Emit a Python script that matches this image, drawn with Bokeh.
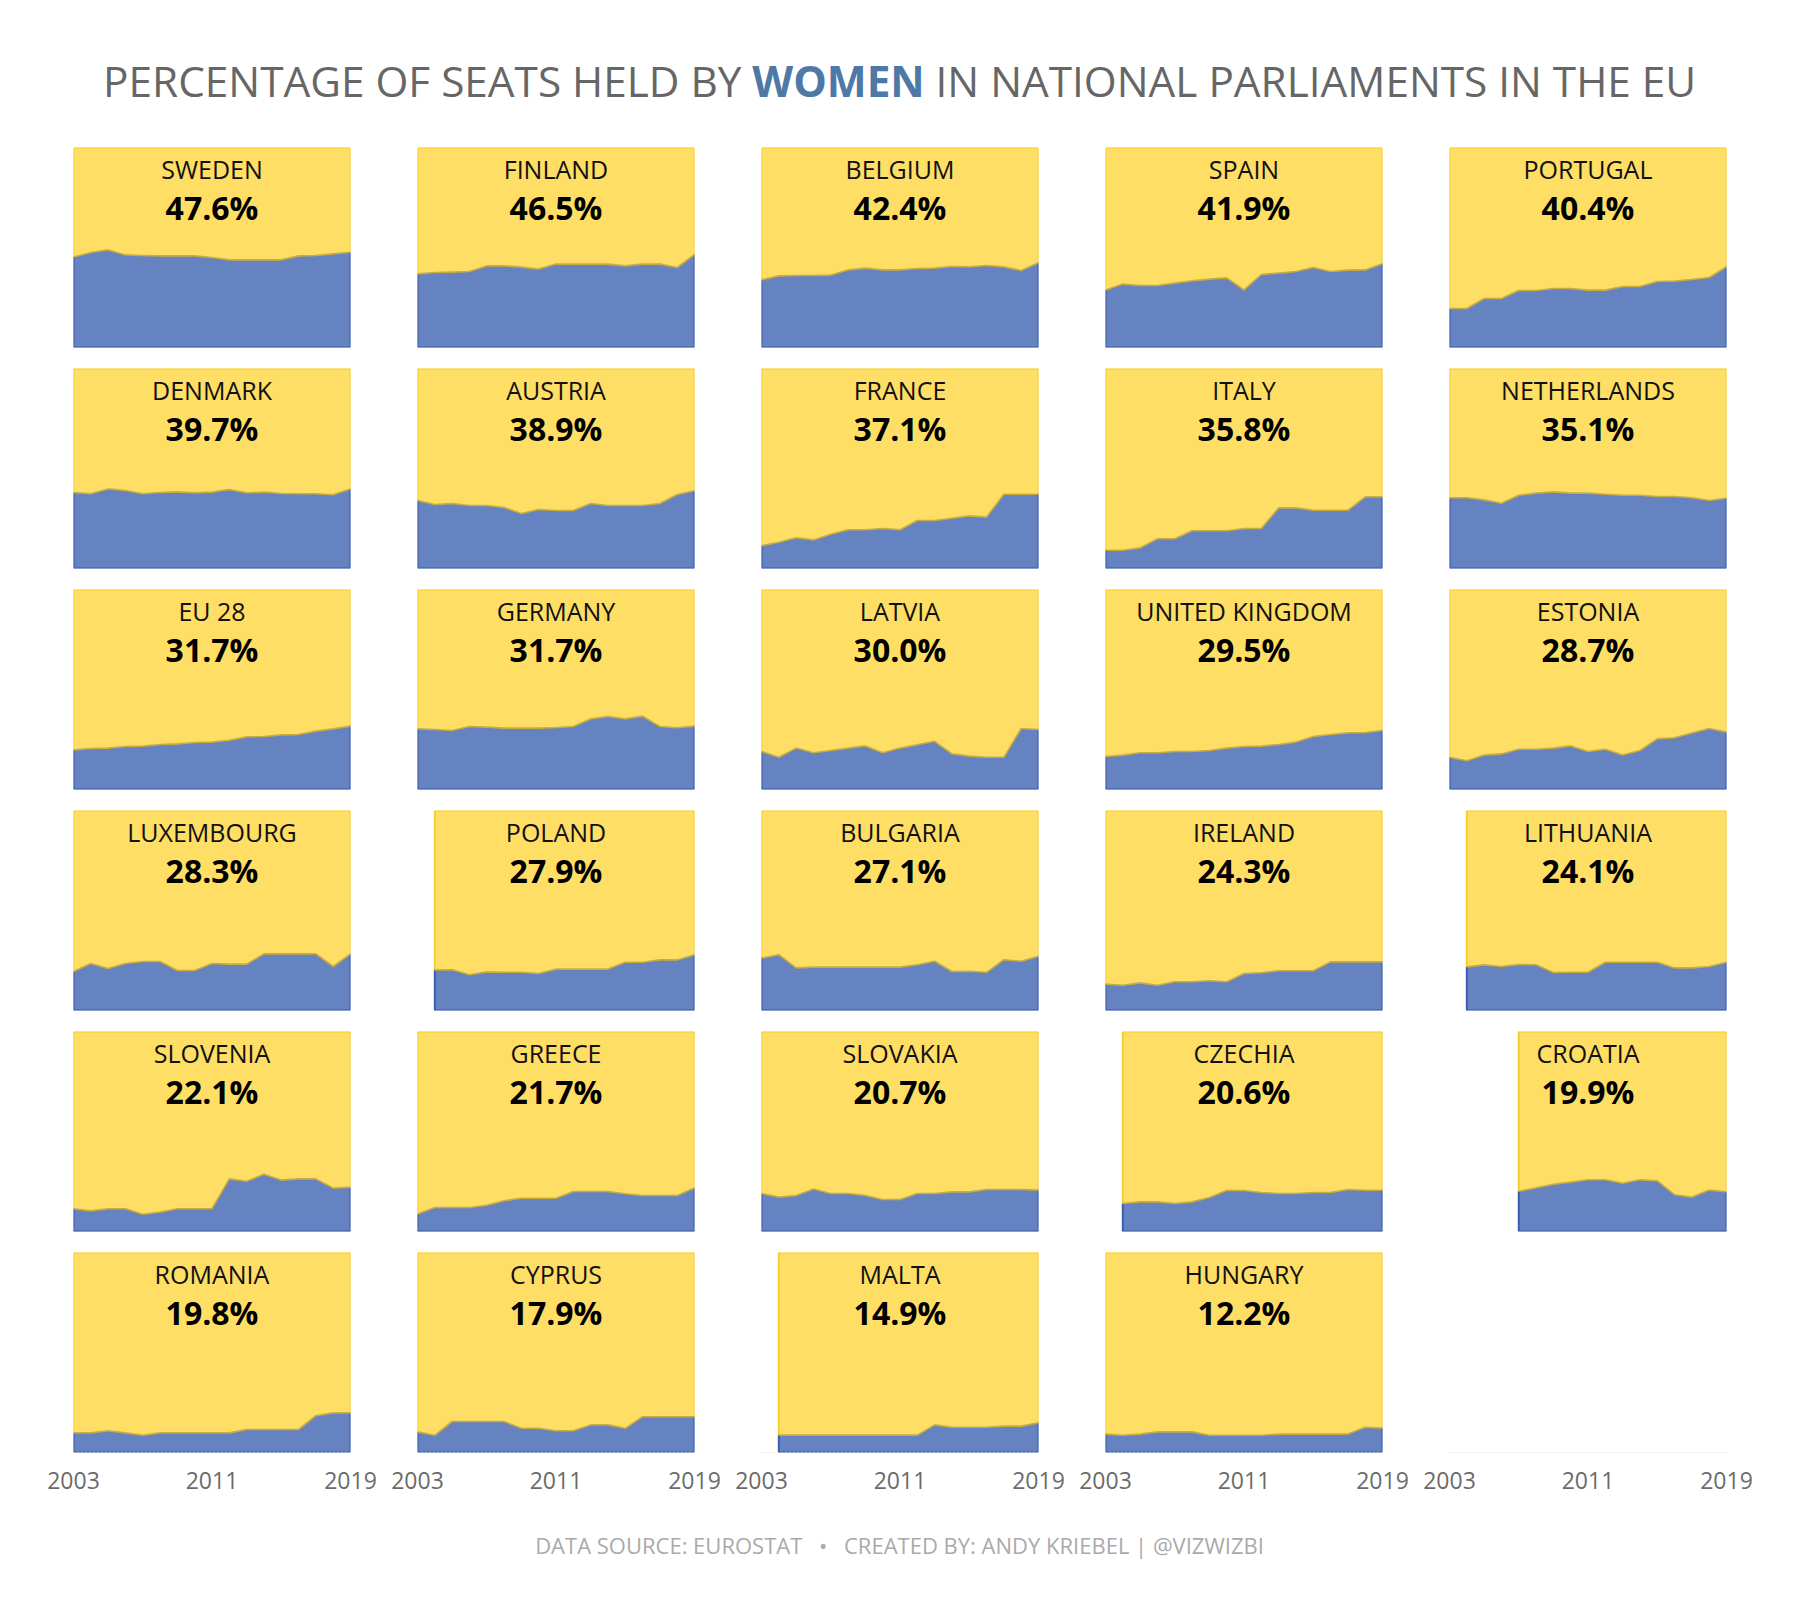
from bokeh.plotting import figure
from bokeh.models import Range1d, FixedTicker, Spacer
from bokeh.layouts import row, column
from bokeh.embed import file_html
from bokeh.resources import INLINE
from bokeh.core.properties import value

# ---------------- data ----------------
YEARS = list(range(2003, 2020))
TICK_YEARS = [2003, 2011, 2019]

sweden = [45.2, 47.5, 48.8, 46.3, 46.0, 45.8, 45.8, 45.8, 45.0, 43.8, 43.8, 43.8, 43.8, 45.8, 46.0, 46.8, 47.6]
finland = [36.8, 37.5, 37.7, 38.0, 40.8, 40.8, 40.2, 39.2, 41.7, 41.7, 41.7, 41.7, 40.8, 41.7, 41.7, 40.0, 46.5]
belgium = [33.8, 35.8, 36.0, 36.0, 36.2, 38.8, 39.7, 38.8, 38.8, 39.5, 39.7, 40.5, 40.3, 41.0, 40.3, 38.5, 42.4]
spain = [28.8, 31.7, 31.0, 31.0, 32.2, 33.3, 34.2, 34.8, 28.8, 36.5, 37.2, 38.0, 40.0, 38.0, 38.7, 38.8, 41.9]
portugal = [19.5, 19.5, 24.5, 24.5, 28.5, 28.5, 29.5, 29.5, 28.7, 28.7, 30.5, 30.5, 33.0, 33.2, 34.0, 35.0, 40.4]

denmark = [38.0, 37.4, 39.8, 39.0, 37.4, 38.0, 38.3, 37.8, 38.2, 39.5, 37.8, 38.2, 37.5, 37.4, 37.4, 36.9, 39.7]
austria = [34.0, 32.0, 32.5, 31.5, 31.5, 30.5, 27.5, 29.5, 29.0, 29.0, 32.5, 31.5, 31.5, 31.5, 32.5, 37.0, 38.9]
france = [11.4, 13.1, 15.4, 14.3, 17.1, 19.4, 19.4, 20.0, 19.4, 24.0, 24.0, 25.1, 26.3, 25.7, 37.1, 37.1, 37.1]
italy = [9.1, 9.1, 10.3, 14.9, 14.9, 18.9, 18.9, 18.9, 20.0, 20.0, 30.3, 30.3, 29.1, 29.1, 29.1, 35.8, 35.8]
netherlands = [35.4, 35.4, 34.3, 32.6, 36.6, 37.7, 38.3, 37.7, 37.7, 37.1, 36.6, 36.6, 36.0, 36.0, 35.4, 34.0, 35.1]

eu28 = [19.8, 20.5, 20.7, 21.5, 21.7, 22.5, 22.8, 23.5, 23.7, 24.6, 26.3, 26.5, 27.3, 27.5, 29.2, 30.3, 31.7]
germany = [30.3, 30.0, 29.5, 31.5, 31.2, 30.7, 30.7, 30.7, 31.0, 31.5, 35.3, 36.5, 35.3, 36.7, 31.5, 30.9, 31.7]
latvia = [19.0, 16.1, 20.7, 18.4, 19.5, 20.7, 21.8, 18.4, 20.7, 22.4, 24.1, 17.8, 16.7, 16.1, 16.1, 30.5, 30.0]
united_kingdom = [16.5, 17.2, 18.4, 18.4, 19.0, 19.0, 19.5, 20.7, 21.5, 21.7, 22.5, 23.7, 26.5, 27.5, 28.3, 28.5, 29.5]
estonia = [16.1, 14.4, 17.2, 17.8, 20.1, 20.1, 20.7, 21.8, 19.0, 20.1, 17.2, 19.5, 25.3, 25.9, 28.2, 30.5, 28.7]

luxembourg = [19.5, 23.5, 21.0, 23.5, 24.5, 24.5, 20.0, 20.0, 23.5, 23.2, 23.2, 28.3, 28.3, 28.3, 28.3, 22.0, 28.3]
poland = [20.2, 20.4, 17.9, 19.3, 19.1, 19.1, 18.5, 20.7, 20.7, 20.7, 20.7, 24.1, 24.1, 25.3, 25.3, 27.9]  # from 2004
bulgaria = [26.2, 27.9, 21.3, 21.7, 21.7, 21.7, 21.7, 21.7, 21.7, 22.9, 24.6, 19.5, 19.6, 19.1, 25.4, 24.6, 27.1]
ireland = [13.2, 12.6, 13.8, 12.6, 14.4, 14.4, 14.9, 14.4, 18.5, 18.9, 19.9, 19.9, 19.9, 24.3, 24.3, 24.3, 24.3]
lithuania = [21.8, 22.8, 22.0, 23.0, 22.9, 19.0, 19.1, 19.1, 24.1, 24.1, 24.1, 24.1, 21.3, 21.3, 22.0, 24.1]  # from 2004

slovenia = [11.4, 10.3, 11.4, 11.4, 8.6, 9.7, 11.4, 11.4, 11.4, 26.3, 25.1, 28.6, 25.7, 26.3, 26.3, 21.7, 22.1]
greece = [8.7, 12.0, 12.0, 12.0, 13.1, 15.4, 16.6, 16.6, 16.6, 20.0, 20.0, 20.0, 18.9, 18.0, 18.0, 18.0, 21.7]
slovakia = [19.0, 17.2, 18.0, 21.3, 19.0, 19.0, 18.0, 16.0, 16.0, 19.0, 19.0, 19.8, 19.8, 21.0, 21.0, 21.0, 20.7]
czechia = [14.0, 14.8, 14.8, 14.0, 14.8, 17.0, 20.5, 20.5, 19.5, 19.0, 19.0, 19.5, 19.5, 21.0, 20.6, 20.6]  # from 2004
croatia = [20.1, 21.8, 23.6, 24.7, 25.9, 25.9, 24.1, 25.9, 25.3, 18.4, 17.2, 20.7, 19.9]  # from 2007

romania = [9.8, 9.8, 10.9, 9.8, 8.6, 9.8, 9.8, 9.8, 9.8, 9.8, 11.5, 11.5, 11.5, 11.5, 18.4, 19.8, 19.8]
cyprus = [10.3, 8.6, 15.5, 15.5, 15.5, 15.5, 12.1, 12.1, 10.9, 10.9, 13.8, 13.8, 12.1, 17.9, 17.9, 17.9, 17.9]
malta = [8.7, 8.7, 8.7, 8.7, 8.7, 8.7, 8.7, 8.7, 8.7, 13.8, 12.6, 12.6, 12.6, 13.2, 13.2, 14.9]  # from 2004
hungary = [9.2, 8.6, 9.2, 10.3, 10.3, 10.3, 8.6, 8.6, 8.6, 8.6, 9.2, 9.2, 9.2, 9.2, 9.2, 12.6, 12.2]

NAMES = ["SWEDEN", "FINLAND", "BELGIUM", "SPAIN", "PORTUGAL",
         "DENMARK", "AUSTRIA", "FRANCE", "ITALY", "NETHERLANDS",
         "EU 28", "GERMANY", "LATVIA", "UNITED KINGDOM", "ESTONIA",
         "LUXEMBOURG", "POLAND", "BULGARIA", "IRELAND", "LITHUANIA",
         "SLOVENIA", "GREECE", "SLOVAKIA", "CZECHIA", "CROATIA",
         "ROMANIA", "CYPRUS", "MALTA", "HUNGARY"]
SERIES = [sweden, finland, belgium, spain, portugal,
          denmark, austria, france, italy, netherlands,
          eu28, germany, latvia, united_kingdom, estonia,
          luxembourg, poland, bulgaria, ireland, lithuania,
          slovenia, greece, slovakia, czechia, croatia,
          romania, cyprus, malta, hungary]
LABELS = ["47.6%", "46.5%", "42.4%", "41.9%", "40.4%",
          "39.7%", "38.9%", "37.1%", "35.8%", "35.1%",
          "31.7%", "31.7%", "30.0%", "29.5%", "28.7%",
          "28.3%", "27.9%", "27.1%", "24.3%", "24.1%",
          "22.1%", "21.7%", "20.7%", "20.6%", "19.9%",
          "19.8%", "17.9%", "14.9%", "12.2%"]

# ---------------- style ----------------
FONT = "Open Sans"
YELLOW = "#FEDE64"
YELLOW_EDGE = "#F7CD2C"
BLUE = "#6583C1"
BLUE_EDGE = "#3A5DAE"
BOUNDARY = "#C9AC3C"
GREY = "#666666"

NCOL, NROW = 5, 6
FW, FH = 277, 200
BL, BR = 34, 33
LEFT_PAD = 39


def make_panel(name, vals, label, bottom):
    p = figure(frame_width=FW, frame_height=FH,
               x_range=Range1d(2003, 2019), y_range=Range1d(0, 100),
               min_border_left=BL, min_border_right=BR,
               min_border_top=10, min_border_bottom=50 if bottom else 11,
               toolbar_location=None, output_backend="svg",
               x_axis_location="below" if bottom else None, y_axis_location=None,
               outline_line_color=None, background_fill_color="white",
               border_fill_color="white")
    p.grid.visible = False
    if vals is not None:
        yrs = YEARS[len(YEARS) - len(vals):]
        n = len(vals)
        p.varea(x=yrs, y1=vals, y2=[100] * n, fill_color=YELLOW)
        p.varea(x=yrs, y1=[0] * n, y2=vals, fill_color=BLUE)
        x0, x1 = yrs[0], yrs[-1]
        p.line([x0, x0, x1, x1], [vals[0], 100, 100, vals[-1]],
               line_color=YELLOW_EDGE, line_width=2)
        p.line([x0, x0, x1, x1], [vals[0], 0, 0, vals[-1]],
               line_color=BLUE_EDGE, line_width=2)
        p.line(yrs, vals, line_color=BOUNDARY, line_width=1.6, line_join="round")
        p.text(x=[2011], y=[89.3], text=[name], text_font=value(FONT),
               text_font_size="25px", text_color="#111111",
               text_align="center", text_baseline="alphabetic")
        p.text(x=[2011], y=[70.0], text=[label], text_font=value(FONT),
               text_font_size="32px", text_font_style="bold", text_color="#000000",
               text_align="center", text_baseline="alphabetic")
    if bottom:
        ax = p.xaxis[0]
        ax.ticker = FixedTicker(ticks=TICK_YEARS)
        ax.major_label_text_font = FONT
        ax.major_label_text_font_size = "23px"
        ax.major_label_text_color = "#6B6B6B"
        ax.major_tick_line_color = None
        ax.minor_tick_line_color = None
        ax.major_tick_out = 0
        ax.major_tick_in = 0
        ax.major_label_standoff = 19
        ax.axis_line_color = "#D4D4D4"
        ax.axis_line_dash = "1 3"
    return p


TW = LEFT_PAD + NCOL * (FW + BL + BR)
TH = 137

title = figure(frame_width=TW, frame_height=TH, x_range=Range1d(0, TW), y_range=Range1d(0, TH),
               min_border=0, toolbar_location=None, output_backend="svg",
               x_axis_location=None, y_axis_location=None, outline_line_color=None)
title.grid.visible = False
title.text(x=[741], y=[57], text=["PERCENTAGE OF SEATS HELD BY"], text_font=value(FONT),
           text_font_size="42.3px", text_color=GREY, text_align="right", text_baseline="alphabetic")
title.text(x=[838], y=[57], text=["WOMEN"], text_font=value(FONT), text_font_style="bold",
           text_font_size="42.3px", text_color="#4E79A7", text_align="center", text_baseline="alphabetic")
title.text(x=[935], y=[57], text=["IN NATIONAL PARLIAMENTS IN THE EU"], text_font=value(FONT),
           text_font_size="42.3px", text_color=GREY, text_align="left", text_baseline="alphabetic")

rows = [title]
for r in range(NROW):
    figs = []
    for c in range(NCOL):
        i = r * NCOL + c
        bottom = (r == NROW - 1)
        if i < len(NAMES):
            figs.append(make_panel(NAMES[i], SERIES[i], LABELS[i], bottom))
        else:
            figs.append(make_panel(None, None, None, bottom))
    rows.append(row(Spacer(width=LEFT_PAD, height=10), *figs))

footer = figure(frame_width=TW, frame_height=88, x_range=Range1d(0, TW), y_range=Range1d(0, 88),
                min_border=0, toolbar_location=None, output_backend="svg",
                x_axis_location=None, y_axis_location=None, outline_line_color=None)
footer.grid.visible = False
footer.text(x=[899], y=[46],
            text=["DATA SOURCE: EUROSTAT \u2002\u2022\u2002 CREATED BY: ANDY KRIEBEL | @VIZWIZBI"],
            text_font=value(FONT), text_font_size="22px", text_color="#AAAAAA",
            text_align="center", text_baseline="alphabetic")
rows.append(footer)

p = column(*rows)
open("out.html", "w").write(file_html(p, INLINE))
